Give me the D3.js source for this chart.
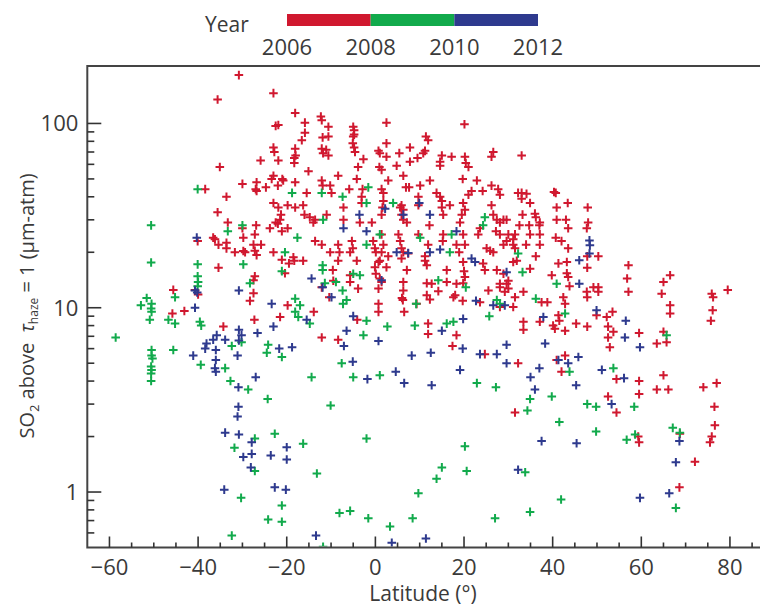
<!DOCTYPE html>
<html>
<head>
<meta charset="utf-8">
<style>
	body { margin: 0; background: #fff; }
	svg { display: block; }
</style>
</head>
<body>
<div id="chart"></div>
<script src="https://cdn.jsdelivr.net/npm/d3@7"></script>
<script>

// legend years (colour bar edges)
var years = [2006, 2008, 2010, 2012]

// tick labels
var xTickValues = [-60, -40, -20, 0, 20, 40, 60, 80]
	, yTickValues = [1, 10, 100]

// [latitude (deg), SO2 above tau_haze = 1 (um-atm)], one list per period
var points2006 = [
	[-30.8,183],[-23,146],[-35.6,135],[-18.1,114],[-22.5,97],[-21.9,98],[-15.9,101],[-16.6,81],[-23,74],[-22.8,70],
	[-18.1,73],[-18,67],[-18.3,65],[-25.9,63],[-21.9,63],[-18.3,61],[-35.1,58],[-23,52],[-23.4,50],[-21,50],
	[-20.8,49],[-18.1,48],[-30,47],[-26.8,48],[-27,44],[-26.8,43],[-24.7,45],[-22,46],[-38.4,44],[-33.6,40],
	[-23,37],[-21.9,35],[-19.8,36],[-18.1,35],[-16.3,36],[-35.6,33],[-21.3,32],[-21.5,30],[-22.5,29],[-22,28.6],
	[-23.8,27],[-19.8,27],[-21.1,26],[-33.3,29],[-26.9,28],[-27.2,25],[-30,27],[-29.8,24],[-36.6,24],[-36.2,23.5],
	[-40.1,23],[-33.6,22.5],[-35.4,22],[-33.6,21],[-27.5,22],[-25.8,22],[-29.8,20.3],[-29.4,20],[-31.7,20],[-27.2,20.4],
	[-26.8,19.3],[-23,20],[-21.1,18.2],[-18.5,18.8],[-18.3,18],[-19.5,17.4],[-35.4,16.5],[-27.2,14.8],[-27.5,14.1],[-20.4,15.4],
	[-45.6,12.5],[-40.7,12.5],[-27.5,12],[-40,11.8],[-28.3,10.9],[-19.8,10.3],[-45.8,9.3],[-43.1,9.6],[-27.3,8.6],[-21.5,8.9],
	[-34.3,7.9],
	[-12.3,109],[-12.1,104],[-10.6,96],[-5,96],[-4.8,92],[-4.8,87],[-5,85],[2.5,101],[20.1,99],[-15.9,89],
	[-11.9,84],[-10.6,85],[-12.1,73],[-11.1,72],[-11.8,69],[-10.6,67],[-5.1,78],[-4.8,74],[-4.6,70],[2.5,78],
	[11.4,85],[11.9,81],[0.7,71],[1,69],[2.5,66],[5.4,69],[7.8,74],[11.2,71],[10.8,69],[9.5,65],
	[7.8,62],[15,67],[17.2,66],[-2.7,64],[20.2,66],[20.4,61],[21,58],[26.6,70],[26.2,66],[14.6,62],
	[14.6,59],[0.9,58],[1.4,56],[4.8,59],[-3.9,58],[6.3,52],[-15.1,55],[-8.4,52],[-4.2,50],[2.9,49],
	[12.3,49],[19.7,50],[22.9,49],[32.2,42],[-12.1,49],[-11.9,46],[-10.2,46],[-9.9,42],[-5.9,44],[-2.9,44],
	[1.4,44],[1.8,42],[6.9,45],[7.6,45],[10.1,46],[13.8,42],[14.6,40],[15,38],[15,35],[16.8,36],
	[21.7,43],[21,41],[24.2,43],[26.2,46],[27.7,44],[28.1,41],[-15.5,42],[-7.2,35],[-3.1,40],[-3.1,37],
	[1.8,38],[1.6,35],[5.9,36],[6.3,34],[9.7,40],[9.7,36],[19.8,37],[20.2,34],[19.5,32],[19.1,29],
	[26.2,36],[26.6,32],[27.4,30],[28.1,29],[-16,32],[-14.8,31],[-13.6,30],[-14,29],[-11,32],[-7.2,30],
	[-3.5,29],[-0.8,29],[1.4,32],[5.6,35],[5.9,32],[6.3,30],[7.1,29],[12.2,28],[15.3,32],[23.6,27],
	[27.2,26],[28.1,25],[30,25],[29.6,30],[-13.6,23],[-12.1,22],[-10.2,20],[-8.4,22],[-8.1,20],[-8.4,18],
	[-5.3,23],[-5.1,21],[-5.7,20],[-0.5,23],[-0.1,21],[0.1,20],[1.4,25],[1.8,22],[1.4,20],[1,18],
	[5.2,25],[5.6,23],[5.9,21],[6.3,20],[7.4,19.7],[9.7,25],[11.9,22],[11.2,19],[15.3,25],[15.2,23],
	[18.3,22],[18.9,20],[19.8,25],[20.2,22],[23.2,25],[25.1,21],[25.9,20.4],[26.6,20],[29.6,23],[31.1,22],
	[31.5,25],[-16.3,18],[-4.2,18],[0.7,17.7],[2.9,19],[-0.1,16.6],[0.1,15.3],[-9.6,16],[-5.7,15],[2.5,16.6],
	[5.9,18.5],[7.1,16],[11.2,18],[11.6,17],[16.1,16],[19.8,17.7],[20,15.8],[20.2,14.7],[24.3,17.4],[24.7,16],
	[27.4,16],[28.9,15.3],[30,14],[30,12.7],[31.1,17.7],[1,14.4],[1.4,13.8],[-9.5,14],[-3.9,12.7],[0.7,12.7],
	[6.3,13.8],[6.3,12.4],[11.6,13.6],[16.1,13.8],[19.8,13.6],[25.5,12.4],[28.1,12.9],[17.6,11.4],[11.6,11.7],
	[-12.1,12.9],[-5.7,13.8],[12.7,13.5],[18.3,13.5],[29.6,13.5],[6.2,11],[6,11.3],[0.7,10.5],[0.7,9.5],[6.5,9.5],
	[12.3,11.1],[14.2,12.3],[18,11.7],[19.7,10.9],[23.6,10.7],[28.1,10.1],[31.1,10.1],[-10.4,11.4],[-13.9,9.5],[-4.1,8.6],
	[9.3,10.5],[11.9,8.2],[11.9,7.2],[18.3,7.1],[17.4,6.2],[-12.1,6.9],[-8.4,6.7],[24.7,5.6],[32.2,5],[31.5,2.7],
	[33,67],[33,42],[34.1,41.5],[33,39],[40.3,42.5],[40.7,42],[34.9,37],[40.9,35],[43.4,37],[47.9,35],
	[33.2,32],[36,32.4],[36.2,31],[37.1,29],[37,28],[40.9,30],[43,30],[43.5,27],[48,29],[47.7,27],
	[28.9,30],[32.5,28],[34.7,28],[34.9,25],[28.9,22],[37.1,25],[37.1,22],[40.7,24],[42,23],[43.5,21],
	[31.1,23.5],[31.5,21],[34,22],[36.2,19],[31.9,18],[34.9,16.3],[41.3,17.4],[43.2,17.7],[47.8,19],[50.3,19],
	[47.8,16.5],[43.2,15.4],[43.5,14.7],[43.8,13.1],[39.8,15],[28.1,13.5],[29.2,12.2],[33.4,12.2],[31.5,11.4],[37.5,10.7],
	[38.8,10.7],[42.4,11.4],[42.8,10.5],[47.7,12.2],[47.8,11.4],[49.2,12.9],[50.3,12.9],[50.3,12.2],[57.1,17],[56.8,14.4],
	[57.1,12.2],[66.5,15],[65,13.8],[64.6,11.9],[75.9,11.9],[76.2,11.4],[76.1,9.7],[75.7,8.5],[79.5,12.5],[66.5,10.3],
	[66.5,9.3],[41.3,9.1],[41.5,8.5],[37.1,8.4],[33.4,8.4],[33.4,7.6],[40.1,8],[40.5,7.7],[42.8,7.5],[45.3,8.2],
	[47.8,7.9],[49.9,9.1],[52.2,8.9],[53.5,9.5],[52.5,7.9],[53.7,7.4],[52.5,6.9],[52.9,6.1],[59.5,7.3],[65,7.4],
	[63.5,6.4],[65.7,6.5],[40.9,5.2],[42.8,5.5],[42,4.5],[54.4,4.1],[59.5,4],[59.5,3.4],[65,4.3],[63.5,3.6],
	[66.1,3.6],[74,3.7],[77,3.9],[52.5,3.3],[54.4,2.7],[76.5,2.9],[76.6,2.3],[75.9,2.0],[75.5,1.86],[59.3,2.0],
	[59.5,1.86],[68.7,2.07],[72.1,1.46],[68.6,1.06]
]

var points2008 = [
	[-40.1,44],[-18.8,42],[-50.6,28],[-30,28],[-33.3,26],[-17.6,24],[-20.4,20],[-50.6,17.6],[-40.1,17.2],[-29.8,17.2],
	[-40.1,14.8],[-40,13.8],[-40.1,13.1],[-21.1,15.8],[-28.3,13.6],[-51.6,11.3],[-45.2,11.4],[-18.1,11.2],[-52.9,10.3],[-50.5,10.5],
	[-50.6,9.9],[-50.5,9.5],[-50.9,8.6],[-46.7,8.6],[-45.2,8.2],[-39.6,8.4],[-39.3,8.0],[-58.6,6.9],[-32.4,6.2],[-30.2,6.5],
	[-50.5,5.9],[-50.5,5.5],[-50.3,5.3],[-50.6,4.8],[-50.5,4.6],[-50.6,4.4],[-50.6,4.0],[-45.6,5.9],[-39.4,4.9],[-33.9,4.7],
	[-32.7,4.0],[-28.7,3.6],[-24.3,3.2],[-24.2,6.3],[-24.5,5.7],[-21.1,5.4],[-18.1,9.5],[-17.4,8.9],[-27.2,1.95],[-22.7,2.07],
	[-31.8,1.74],[-27.2,1.3],[-16.3,1.83],[-30.3,0.93],[-21.1,0.845],[-24.2,0.71],[-21.1,0.69],[-32.4,0.58],
	[-12.1,42],[-7.4,40],[-1.6,45],[-2,37],[4,37],[-11.8,30],[24.7,31],[24.3,28],[17.2,25],[1,25],
	[10.1,24],[-2,22],[16.8,20],[-11.9,17],[-11.9,16],[-5,15.3],[-3.5,15],[-8.9,13.8],[-11.4,13.6],[-7.4,12.4],
	[14.2,14.1],[20.4,12.9],[-6.5,11],[32.2,19.7],
	[-7.3,10.5],[9.2,10.5],[-17,10.3],[-14.8,8.2],[-2,8.5],[2.7,7.9],[8.9,8],[16.1,8.2],[17.6,8.4],[25.7,9],
	[27.4,11],[-2.7,7.1],[-7.6,5],[-5,4.2],[-14.4,4.2],[1,4.3],[22.9,3.9],[27.2,3.7],[-10.1,2.95],[-2,1.95],
	[20.2,1.77],[-13.2,1.26],[15,1.36],[13.8,1.18],[20.6,1.3],[9.7,0.985],[-8.1,0.77],[-5.7,0.79],[-1.6,0.72],[3.3,0.65],
	[8.4,0.72],[27,0.72],[-11.8,0.505],
	[33.2,15.6],[40.9,13.5],[36.2,11.2],[42.8,9.3],[65.7,7.1],[53.7,4.7],[43.8,4.5],[34.9,3.2],[39.8,3.3],[28.1,10.5],
	[34.3,2.77],[47.8,3.0],[49.8,2.9],[58.4,2.9],[41.5,2.4],[49.8,2.13],[56.7,1.92],[58.6,2.05],[67.1,2.23],[68.7,2.1],
	[33.8,1.28],[41.9,0.91],[34.9,0.78],[67.8,0.82]
]

var points2010 = [
	[-40.3,24],[-40.7,12.4],[-40.2,12.1],[-30.8,12.4],[-23.4,10.5],[-40.7,10],[-23,7.9],[-26.6,7.3],[-30.8,7.6],[-30.2,7.1],
	[-30.8,6.65],[-35.8,7.1],[-36.6,6.7],[-33.9,6.7],[-38.1,6.4],[-38.4,6],[-36,5.9],[-41.1,5.5],[-31.1,5.5],[-21.7,6],
	[-18.8,6.1],[-36,5.2],[-36.2,4.7],[-36,4.5],[-27,4.2],[-30.9,3.7],[-30.9,2.9],[-31.1,2.57],[-33.9,2.1],[-30.8,2.05],
	[-27.9,1.86],[-20,1.75],[-29.8,1.55],[-27.9,1.61],[-23.6,1.58],[-20,1.5],[-28.1,1.36],[-34.1,1.03],[-22.7,1.06],[-20.2,1.03],
	[2.2,34.5],[-3.6,32],[6.3,32],[12.3,32],[-7.2,27],[-2,26],[9.9,37],[18.3,26],[4.8,20],[7.4,19.8],
	[12.3,20],[14.6,20.7],[21.7,18.5],[22.5,17.7],[29.6,15.6],[-14.4,14.4],[-11.9,12.9],[-9.9,11.4],[1.4,14.1],
	[-15.5,8.6],[-5,9],[-6.5,7.5],[-7.1,6.2],[0.7,6.6],[-5.1,5.1],[-1.8,4.1],[4.6,4.5],[6.5,3.9],[12.7,3.8],
	[8.2,5.5],[12.5,5.7],[15,7.5],[19.8,8.7],[19.7,6],[19.1,4.6],[22.7,10.9],[26.6,10.3],[29.2,10.3],[23.6,5.6],
	[27.4,5.6],[29.6,6.3],[29.6,5],[32.2,1.32],[-13.4,0.58],[3.7,0.53],[11.4,0.56],
	[48.3,23.2],[48.4,21.8],[48.3,19.7],[46,18.1],[46,13.5],[49.9,9.7],[37.9,8.9],[56.5,8.5],[56.3,6.9],[59.7,6.1],
	[38.3,6.4],[41.3,5.2],[43.5,5.0],[45.8,5.4],[37,4.7],[35,4.2],[51.1,4.6],[56.1,4.15],[36,3.6],[45.3,3.8],
	[53.3,3.0],[37.5,1.89],[45.4,1.84],[68.6,1.89],[67.8,1.45],[59.7,0.93],[66.3,0.985]
]


/**
* scatter chart of SO2 column against latitude
*
* @constructor
*
*/
function SO2Chart() {

	var self = this
		, width = 760
		, height = 610
		, ink = '#3a3a3a'
		, font = '"Open Sans", "Noto Sans", sans-serif'
		, periodColors = ['#d0182f', '#12aa4c', '#2e3a8e']

	/****************************************
	 *
	 * Private methods
	 *
	 ****************************************/

	/**
	 * Draw the frame (left, top and bottom edges, right side is cut off)
	 *
	 * @private
	 *
	 */
	function drawFrame() {

		var x0 = self.x.range()[0]
			, x1 = self.x.range()[1]
			, y0 = self.y.range()[0]
			, y1 = self.y.range()[1]

		self.svg.append('path')
			.attr('d', 'M' + x1 + ',' + y1 + 'H' + x0 + 'V' + y0 + 'H' + x1)
			.attr('fill', 'none')
			.attr('stroke', '#444')
			.attr('stroke-width', 2)
	}

	/**
	 * Draw inward ticks and tick labels on both axes
	 *
	 * @private
	 *
	 */
	function drawAxes() {

		var left = self.x.range()[0]
			, bottom = self.y.range()[0]
			, xMinor = d3.range(-55, 90, 5).filter(function(v) { return v % 20 !== 0 })
			, yMinor = []

		;[0.1, 1, 10].forEach(function(decade) {
			d3.range(2, 10).forEach(function(k) {
				var v = k * decade
				if (v > self.y.domain()[0] && v < self.y.domain()[1]) yMinor.push(v)
			})
		})

		var ticks = self.svg.append('g')
			.attr('stroke', '#333')
			.attr('stroke-width', 1.6)

		ticks.selectAll('.xmaj').data(xTickValues)
		  .enter()
			.append('line')
			.attr('x1', function(d) { return self.x(d) })
			.attr('x2', function(d) { return self.x(d) })
			.attr('y1', bottom)
			.attr('y2', bottom - 11)

		ticks.selectAll('.xmin').data(xMinor)
		  .enter()
			.append('line')
			.attr('x1', function(d) { return self.x(d) })
			.attr('x2', function(d) { return self.x(d) })
			.attr('y1', bottom)
			.attr('y2', bottom - 5)

		ticks.selectAll('.ymaj').data(yTickValues)
		  .enter()
			.append('line')
			.attr('y1', function(d) { return self.y(d) })
			.attr('y2', function(d) { return self.y(d) })
			.attr('x1', left)
			.attr('x2', left + 14)

		ticks.selectAll('.ymin').data(yMinor)
		  .enter()
			.append('line')
			.attr('y1', function(d) { return self.y(d) })
			.attr('y2', function(d) { return self.y(d) })
			.attr('x1', left)
			.attr('x2', left + 7)

		self.svg.selectAll('.xlabel').data(xTickValues)
		  .enter()
			.append('text')
			.attr('x', function(d) { return self.x(d) })
			.attr('y', bottom + 27)
			.attr('text-anchor', 'middle')
			.attr('font-size', 22)
			.text(function(d) { return d < 0 ? '\u2212' + Math.abs(d) : d })

		self.svg.selectAll('.ylabel').data(yTickValues)
		  .enter()
			.append('text')
			.attr('x', left - 9)
			.attr('y', function(d) { return self.y(d) + 8 })
			.attr('text-anchor', 'end')
			.attr('font-size', 22)
			.text(function(d) { return d })

		// axis titles
		self.svg.append('text')
			.attr('x', 423)
			.attr('y', 601)
			.attr('text-anchor', 'middle')
			.attr('font-size', 21)
			.text('Latitude (\u00b0)')

		var title = self.svg.append('text')
			.attr('transform', 'translate(34,306) rotate(-90)')
			.attr('text-anchor', 'middle')
			.attr('font-size', 20)

		title.append('tspan').text('SO')
		title.append('tspan').attr('font-size', 13).attr('dy', 5).text('2')
		title.append('tspan').attr('dy', -5).text(' above ')
		title.append('tspan').attr('dx', 5).attr('font-style', 'italic').text('\u03c4')
		title.append('tspan').attr('font-size', 12).attr('dy', 4).text('haze')
		title.append('tspan').attr('dy', -4).text(' = 1 (\u03bcm-atm)')
	}

	/**
	 * Plus-sign markers, one group per period
	 *
	 * @private
	 *
	 */
	function drawPoints() {

		var arm = 4.3

		self.svg.append('clipPath')
			.attr('id', 'plot-clip')
		  .append('rect')
			.attr('x', self.x.range()[0] + 1)
			.attr('y', self.y.range()[1] + 1)
			.attr('width', self.x.range()[1] - self.x.range()[0])
			.attr('height', self.y.range()[0] - self.y.range()[1] - 2)

		var layer = self.svg.append('g').attr('clip-path', 'url(#plot-clip)')

		self.periods.forEach(function(points, i) {

			layer.append('g')
				.attr('stroke', periodColors[i])
				.attr('stroke-width', 2)
				.attr('fill', 'none')
			  .selectAll('path').data(points)
			  .enter()
				.append('path')
				.attr('d', function(d) {
					var px = self.x(d[0])
						, py = self.y(d[1])
					return 'M' + (px - arm) + ',' + py + 'h' + (2 * arm) +
						'M' + px + ',' + (py - arm) + 'v' + (2 * arm)
				})
		})
	}

	/**
	 * Year colour bar on top of the chart
	 *
	 * @private
	 *
	 */
	function drawLegend() {

		var bar = d3.scaleLinear()
			.domain([years[0], years[years.length - 1]])
			.range([287, 538])

		self.svg.append('text')
			.attr('x', 205)
			.attr('y', 32)
			.attr('font-size', 21)
			.text('Year')

		self.svg.selectAll('.yearbar').data(d3.pairs(years))
		  .enter()
			.append('rect')
			.attr('x', function(d) { return bar(d[0]) })
			.attr('width', function(d) { return bar(d[1]) - bar(d[0]) })
			.attr('y', 14)
			.attr('height', 12)
			.attr('fill', function(d, i) { return periodColors[i] })

		self.svg.selectAll('.yearlabel').data(years)
		  .enter()
			.append('text')
			.attr('x', function(d) { return bar(d) })
			.attr('y', 55)
			.attr('text-anchor', 'middle')
			.attr('font-size', 22)
			.text(function(d) { return d })
	}

	/****************************************
	 *
	 * Public methods
	 *
	 ****************************************/

	/**
	 * Build the SVG in the given container
	 *
	 * @param {string} selector
	 *
	 */
	this.render = function (selector) {

		self.svg = d3.select(selector).append('svg')
			.attr('width', width)
			.attr('height', height)
			.attr('font-family', font)
			.attr('fill', ink)

		// frame spans latitude -65..88 and SO2 0.5..205
		self.x = d3.scaleLinear()
		  .domain([-65, 88])
		  .range([87.3, 765.4])

		self.y = d3.scaleLog()
		  .domain([0.5, 205])
		  .range([547.5, 66])

		self.periods = [points2006, points2008, points2010]

		drawPoints()
		drawFrame()
		drawAxes()
		drawLegend()
	}
}

new SO2Chart().render('#chart')

</script>
</body>
</html>
